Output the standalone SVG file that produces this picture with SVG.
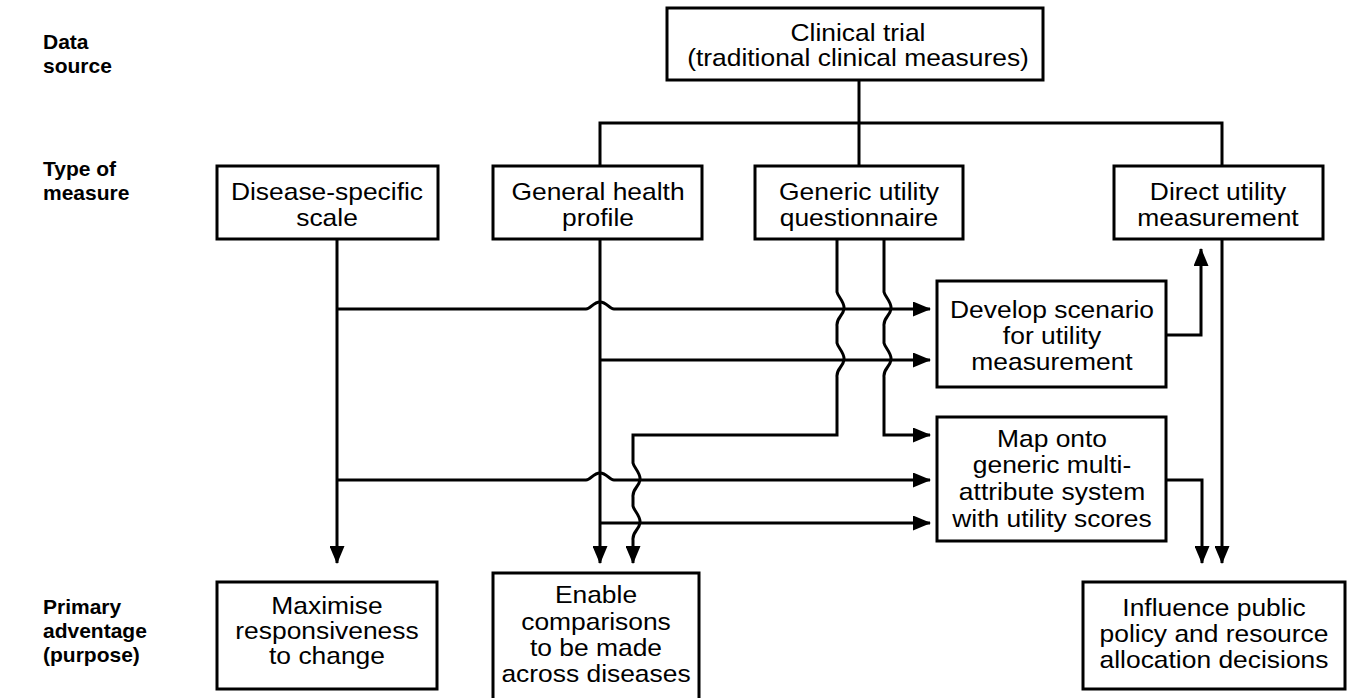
<svg xmlns="http://www.w3.org/2000/svg" width="1363" height="698" viewBox="0 0 1363 698">
<style>
.box{fill:#fff;stroke:#000;stroke-width:3}
.t{font-family:"Liberation Sans",Arial,Helvetica,sans-serif;font-size:24px;text-anchor:middle;fill:#000}
.lbl{font-family:"Liberation Sans",Arial,Helvetica,sans-serif;font-size:21px;font-weight:bold;fill:#000}
.c{fill:none;stroke:#000;stroke-width:3}
.a{marker-end:url(#ah)}
</style>
<defs>
<marker id="ah" markerUnits="userSpaceOnUse" markerWidth="18" markerHeight="15" refX="17" refY="7.5" orient="auto">
<path d="M0,0 L18,7.5 L0,15 z" fill="#000"/>
</marker>
</defs>
<rect width="1363" height="698" fill="#fff"/>

<g id="row-labels">
<text class="lbl"><tspan x="43" y="49">Data</tspan><tspan x="43" y="73">source</tspan></text>
<text class="lbl"><tspan x="43" y="176">Type of</tspan><tspan x="43" y="200">measure</tspan></text>
<text class="lbl"><tspan x="43" y="614">Primary</tspan><tspan x="43" y="638">adventage</tspan><tspan x="43" y="662">(purpose)</tspan></text>
</g>

<g id="connectors">
<path class="c" d="M859,80 V166"/>
<path class="c" d="M600,166 V123 H1222 V166"/>
<path class="c a" d="M337,239 V563"/>
<path class="c a" d="M600,239 V563"/>
<path class="c a" d="M337,309 H586 C591,309 593,302 600,302 C607,302 609,309 614,309 H930"/>
<path class="c a" d="M600,360 H930"/>
<path class="c a" d="M837,239 V292 C838,297 845,302 844,309 C843,316 836,318 837,326 V343 C838,348 845,353 844,360 C843,367 836,369 837,377 V435 H633 V463 C634,468 641,473 640,480 C639,487 632,489 633,497 V506 C634,511 641,516 640,523 C639,530 632,532 633,540 V563"/>
<path class="c a" d="M884,239 V292 C885,297 892,302 891,309 C890,316 883,318 884,326 V343 C885,348 892,353 891,360 C890,367 883,369 884,377 V435 H930"/>
<path class="c a" d="M337,480 H586 C591,480 593,473 600,473 C607,473 609,480 614,480 H930"/>
<path class="c a" d="M600,523 H930"/>
<path class="c a" d="M1166,480 H1202 V563"/>
<path class="c a" d="M1222,239 V563"/>
<path class="c a" d="M1166,335 H1201 V249"/>
</g>

<g id="n-clinical">
<rect class="box" x="667" y="8" width="376" height="72"/>
<text class="t" transform="translate(858,0) scale(1.1,1)"><tspan x="0" y="41">Clinical trial</tspan><tspan x="0" y="66">(traditional clinical measures)</tspan></text>
</g>

<g id="n-disease">
<rect class="box" x="217" y="166" width="221" height="73"/>
<text class="t" transform="translate(327,0) scale(1.1,1)"><tspan x="0" y="200">Disease-specific</tspan><tspan x="0" y="226">scale</tspan></text>
</g>

<g id="n-general">
<rect class="box" x="493" y="166" width="209" height="73"/>
<text class="t" transform="translate(598,0) scale(1.1,1)"><tspan x="0" y="200">General health</tspan><tspan x="0" y="226">profile</tspan></text>
</g>

<g id="n-generic">
<rect class="box" x="755" y="166" width="208" height="73"/>
<text class="t" transform="translate(859,0) scale(1.1,1)"><tspan x="0" y="200">Generic utility</tspan><tspan x="0" y="226">questionnaire</tspan></text>
</g>

<g id="n-direct">
<rect class="box" x="1114" y="166" width="209" height="73"/>
<text class="t" transform="translate(1218,0) scale(1.1,1)"><tspan x="0" y="200">Direct utility</tspan><tspan x="0" y="226">measurement</tspan></text>
</g>

<g id="n-develop">
<rect class="box" x="937" y="281" width="229" height="106"/>
<text class="t" transform="translate(1052,0) scale(1.1,1)"><tspan x="0" y="318">Develop scenario</tspan><tspan x="0" y="344">for utility</tspan><tspan x="0" y="370">measurement</tspan></text>
</g>

<g id="n-map">
<rect class="box" x="937" y="417" width="229" height="124"/>
<text class="t" transform="translate(1052,0) scale(1.1,1)"><tspan x="0" y="447">Map onto</tspan><tspan x="0" y="473">generic multi-</tspan><tspan x="0" y="500">attribute system</tspan><tspan x="0" y="527">with utility scores</tspan></text>
</g>

<g id="n-maximise">
<rect class="box" x="217" y="582" width="220" height="107"/>
<text class="t" transform="translate(327,0) scale(1.1,1)"><tspan x="0" y="614">Maximise</tspan><tspan x="0" y="639">responsiveness</tspan><tspan x="0" y="664">to change</tspan></text>
</g>

<g id="n-enable">
<rect class="box" x="493" y="573" width="206" height="135"/>
<text class="t" transform="translate(596,0) scale(1.1,1)"><tspan x="0" y="603">Enable</tspan><tspan x="0" y="630">comparisons</tspan><tspan x="0" y="656">to be made</tspan><tspan x="0" y="682">across diseases</tspan></text>
</g>

<g id="n-influence">
<rect class="box" x="1083" y="582" width="262" height="107"/>
<text class="t" transform="translate(1214,0) scale(1.1,1)"><tspan x="0" y="616">Influence public</tspan><tspan x="0" y="642">policy and resource</tspan><tspan x="0" y="668">allocation decisions</tspan></text>
</g>
</svg>
